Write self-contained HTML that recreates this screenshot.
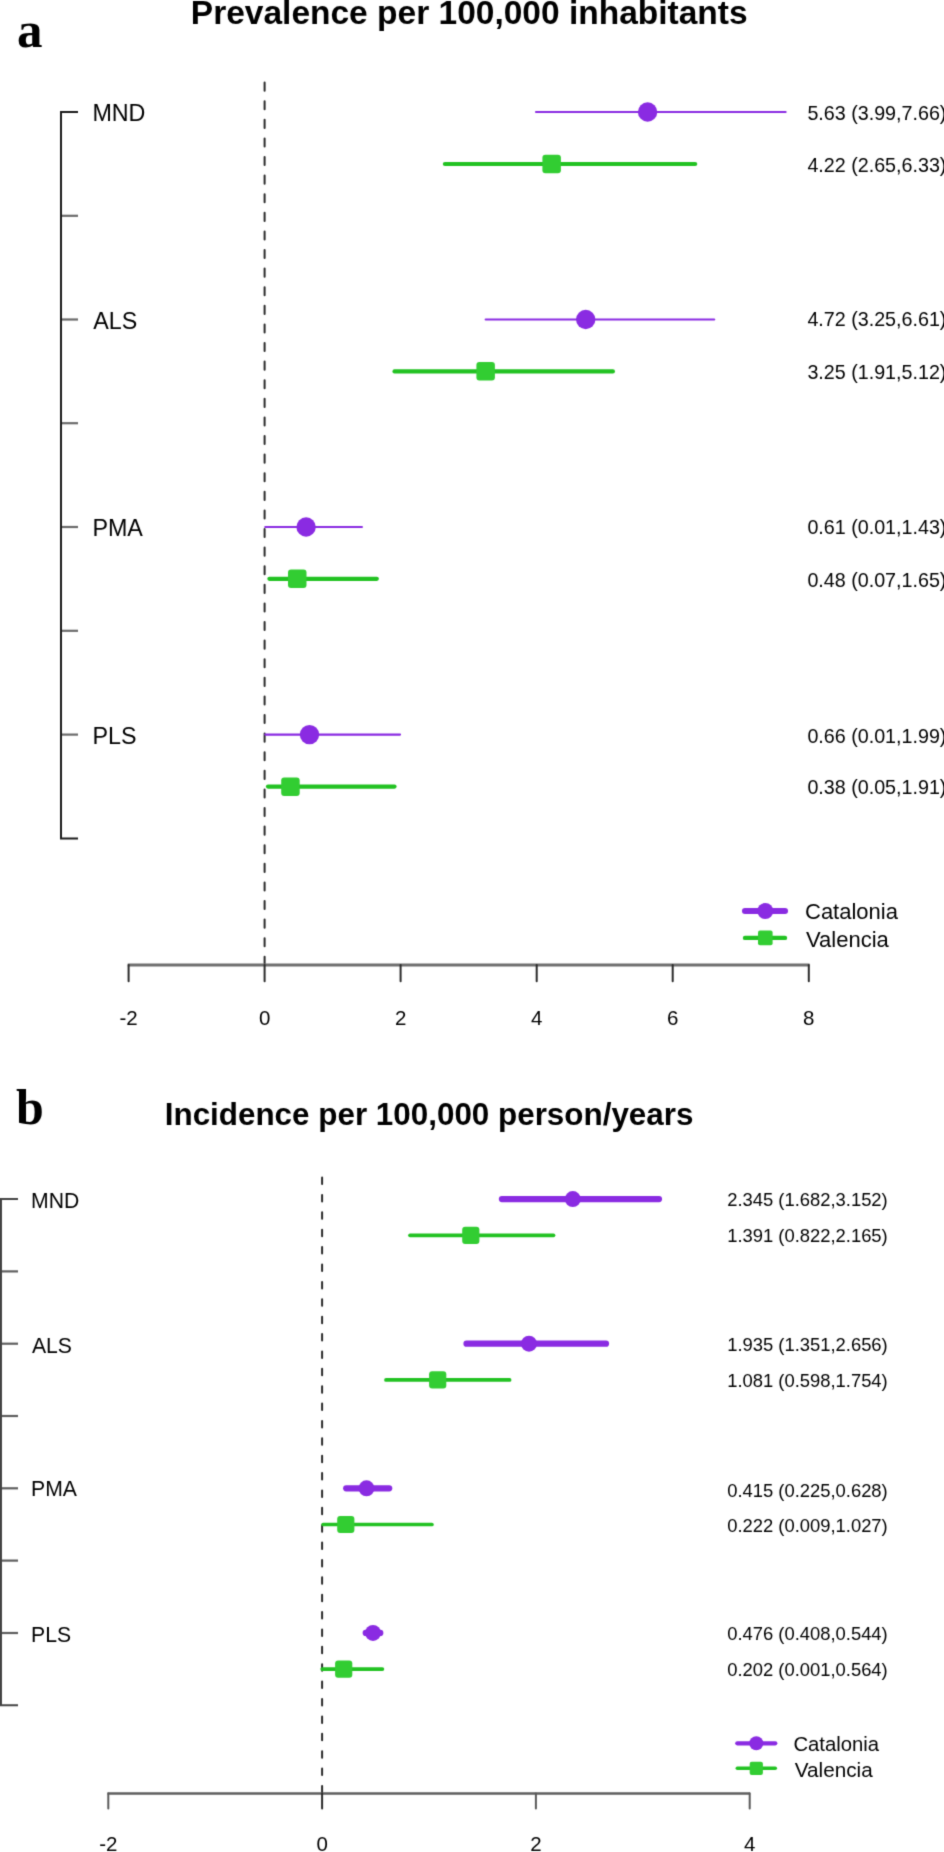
<!DOCTYPE html>
<html><head><meta charset="utf-8"><title>Forest plot</title>
<style>
html,body{margin:0;padding:0;background:#fff;}
body{width:944px;height:1852px;overflow:hidden;}
svg{display:block;font-family:"Liberation Sans",sans-serif;}
</style></head>
<body>
<svg width="944" height="1852" viewBox="0 0 944 1852">
<defs><filter id="soft" filterUnits="userSpaceOnUse" x="0" y="0" width="944" height="1852" color-interpolation-filters="sRGB"><feConvolveMatrix order="3" kernelMatrix="0.0196 0.1004 0.0196 0.1004 0.5199 0.1004 0.0196 0.1004 0.0196" edgeMode="duplicate"/></filter></defs>
<g filter="url(#soft)">
<rect width="944" height="1852" fill="#fff"/>
<text x="469.2" y="23.7" font-size="33.5" fill="#000" text-anchor="middle" font-weight="700">Prevalence per 100,000 inhabitants</text>
<text x="17" y="47.4" font-size="51" fill="#000" font-weight="700" font-family="Liberation Serif">a</text>
<line x1="61" y1="215.8" x2="78" y2="215.8" stroke="#6a6a6a" stroke-width="2.2"/>
<line x1="61" y1="319.5" x2="78" y2="319.5" stroke="#6a6a6a" stroke-width="2.2"/>
<line x1="61" y1="423.2" x2="78" y2="423.2" stroke="#6a6a6a" stroke-width="2.2"/>
<line x1="61" y1="527.0" x2="78" y2="527.0" stroke="#6a6a6a" stroke-width="2.2"/>
<line x1="61" y1="630.8" x2="78" y2="630.8" stroke="#6a6a6a" stroke-width="2.2"/>
<line x1="61" y1="734.6" x2="78" y2="734.6" stroke="#6a6a6a" stroke-width="2.2"/>
<path d="M78,112 H61 V838.4 H78" fill="none" stroke="#1a1a1a" stroke-width="2"/>
<text x="92.4" y="121.3" font-size="23.3" fill="#000">MND</text>
<text x="93.30000000000001" y="328.7" font-size="23.3" fill="#000">ALS</text>
<text x="92.4" y="536.0" font-size="23.3" fill="#000">PMA</text>
<text x="92.4" y="743.7" font-size="23.3" fill="#000">PLS</text>
<line x1="264.6" y1="82.6" x2="264.6" y2="964.9" stroke="#2a2a2a" stroke-width="2" stroke-linecap="round" stroke-dasharray="8.1 10.5"/>
<line x1="127.7" y1="964.9" x2="809.5" y2="964.9" stroke="#6e6e6e" stroke-width="3.0"/>
<line x1="128.6" y1="964.9" x2="128.6" y2="981.3" stroke="#2a2a2a" stroke-width="2" stroke-linecap="round"/>
<text x="128.6" y="1025.3" font-size="20.5" fill="#000" text-anchor="middle">-2</text>
<line x1="264.6" y1="964.9" x2="264.6" y2="981.3" stroke="#2a2a2a" stroke-width="2" stroke-linecap="round"/>
<text x="264.6" y="1025.3" font-size="20.5" fill="#000" text-anchor="middle">0</text>
<line x1="400.6" y1="964.9" x2="400.6" y2="981.3" stroke="#2a2a2a" stroke-width="2" stroke-linecap="round"/>
<text x="400.6" y="1025.3" font-size="20.5" fill="#000" text-anchor="middle">2</text>
<line x1="536.7" y1="964.9" x2="536.7" y2="981.3" stroke="#2a2a2a" stroke-width="2" stroke-linecap="round"/>
<text x="536.7" y="1025.3" font-size="20.5" fill="#000" text-anchor="middle">4</text>
<line x1="672.7" y1="964.9" x2="672.7" y2="981.3" stroke="#2a2a2a" stroke-width="2" stroke-linecap="round"/>
<text x="672.7" y="1025.3" font-size="20.5" fill="#000" text-anchor="middle">6</text>
<line x1="808.8" y1="964.9" x2="808.8" y2="981.3" stroke="#2a2a2a" stroke-width="2" stroke-linecap="round"/>
<text x="808.8" y="1025.3" font-size="20.5" fill="#000" text-anchor="middle">8</text>
<line x1="536.0" y1="112" x2="785.6" y2="112" stroke="#8a2be2" stroke-width="2.2" stroke-linecap="round"/>
<circle cx="647.6" cy="112" r="9.7" fill="#8a2be2"/>
<text x="807.4" y="119.6" font-size="20.2" fill="#000" textLength="139.04" lengthAdjust="spacingAndGlyphs">5.63 (3.99,7.66)</text>
<line x1="444.9" y1="164" x2="695.2" y2="164" stroke="#22c222" stroke-width="4.2" stroke-linecap="round"/>
<rect x="542.4" y="154.8" width="18.5" height="18.5" rx="3" fill="#32cd32"/>
<text x="807.4" y="171.6" font-size="20.2" fill="#000" textLength="139.04" lengthAdjust="spacingAndGlyphs">4.22 (2.65,6.33)</text>
<line x1="485.7" y1="319.5" x2="714.2" y2="319.5" stroke="#8a2be2" stroke-width="2.2" stroke-linecap="round"/>
<circle cx="585.7" cy="319.5" r="9.7" fill="#8a2be2"/>
<text x="807.4" y="326.4" font-size="20.2" fill="#000" textLength="139.04" lengthAdjust="spacingAndGlyphs">4.72 (3.25,6.61)</text>
<line x1="394.5" y1="371.4" x2="612.9" y2="371.4" stroke="#22c222" stroke-width="4.2" stroke-linecap="round"/>
<rect x="476.4" y="362.1" width="18.5" height="18.5" rx="3" fill="#32cd32"/>
<text x="807.4" y="379.2" font-size="20.2" fill="#000" textLength="139.04" lengthAdjust="spacingAndGlyphs">3.25 (1.91,5.12)</text>
<line x1="265.3" y1="527" x2="361.9" y2="527" stroke="#8a2be2" stroke-width="2.2" stroke-linecap="round"/>
<circle cx="306.1" cy="527" r="9.7" fill="#8a2be2"/>
<text x="807.4" y="534.0" font-size="20.2" fill="#000" textLength="139.04" lengthAdjust="spacingAndGlyphs">0.61 (0.01,1.43)</text>
<line x1="269.4" y1="578.8" x2="376.8" y2="578.8" stroke="#22c222" stroke-width="4.2" stroke-linecap="round"/>
<rect x="288.0" y="569.5" width="18.5" height="18.5" rx="3" fill="#32cd32"/>
<text x="807.4" y="586.5" font-size="20.2" fill="#000" textLength="139.04" lengthAdjust="spacingAndGlyphs">0.48 (0.07,1.65)</text>
<line x1="265.3" y1="734.6" x2="400.0" y2="734.6" stroke="#8a2be2" stroke-width="2.2" stroke-linecap="round"/>
<circle cx="309.5" cy="734.6" r="9.7" fill="#8a2be2"/>
<text x="807.4" y="743.3" font-size="20.2" fill="#000" textLength="139.04" lengthAdjust="spacingAndGlyphs">0.66 (0.01,1.99)</text>
<line x1="268.0" y1="786.6" x2="394.5" y2="786.6" stroke="#22c222" stroke-width="4.2" stroke-linecap="round"/>
<rect x="281.2" y="777.4" width="18.5" height="18.5" rx="3" fill="#32cd32"/>
<text x="807.4" y="793.9" font-size="20.2" fill="#000" textLength="139.04" lengthAdjust="spacingAndGlyphs">0.38 (0.05,1.91)</text>
<line x1="745" y1="911" x2="785" y2="911" stroke="#8a2be2" stroke-width="6.1" stroke-linecap="round"/>
<circle cx="765.3" cy="911" r="8" fill="#8a2be2"/>
<line x1="745" y1="937.9" x2="785" y2="937.9" stroke="#22c222" stroke-width="4.4" stroke-linecap="round"/>
<rect x="758.0" y="930.6" width="14.6" height="14.6" rx="2" fill="#32cd32"/>
<text x="805" y="919.3" font-size="22" fill="#000">Catalonia</text>
<text x="806" y="947" font-size="22" fill="#000">Valencia</text>
<text x="429.1" y="1124.7" font-size="31.4" fill="#000" text-anchor="middle" font-weight="700">Incidence per 100,000 person/years</text>
<text x="16" y="1123.5" font-size="50" fill="#000" font-weight="700" font-family="Liberation Serif">b</text>
<line x1="1" y1="1271.4" x2="18" y2="1271.4" stroke="#5e5e5e" stroke-width="2.2"/>
<line x1="1" y1="1343.7" x2="18" y2="1343.7" stroke="#5e5e5e" stroke-width="2.2"/>
<line x1="1" y1="1416.0" x2="18" y2="1416.0" stroke="#5e5e5e" stroke-width="2.2"/>
<line x1="1" y1="1488.3" x2="18" y2="1488.3" stroke="#5e5e5e" stroke-width="2.2"/>
<line x1="1" y1="1560.6" x2="18" y2="1560.6" stroke="#5e5e5e" stroke-width="2.2"/>
<line x1="1" y1="1633.0" x2="18" y2="1633.0" stroke="#5e5e5e" stroke-width="2.2"/>
<path d="M18,1199.1 H1 V1705.27 H18" fill="none" stroke="#444" stroke-width="2"/>
<text x="31.0" y="1208.1" font-size="21.2" fill="#000">MND</text>
<text x="31.9" y="1352.8" font-size="21.2" fill="#000">ALS</text>
<text x="31.0" y="1496.2" font-size="21.2" fill="#000">PMA</text>
<text x="31.0" y="1641.5" font-size="21.2" fill="#000">PLS</text>
<line x1="322.1" y1="1177.6" x2="322.1" y2="1793.5" stroke="#2a2a2a" stroke-width="2" stroke-linecap="round" stroke-dasharray="6.5 10.88"/>
<line x1="107.5" y1="1793.5" x2="750.2" y2="1793.5" stroke="#5e5e5e" stroke-width="2.7"/>
<line x1="108.3" y1="1793.5" x2="108.3" y2="1808.6" stroke="#5a5a5a" stroke-width="2" stroke-linecap="round"/>
<text x="108.3" y="1850.7" font-size="20.5" fill="#000" text-anchor="middle">-2</text>
<line x1="322.1" y1="1793.5" x2="322.1" y2="1808.6" stroke="#2a2a2a" stroke-width="2" stroke-linecap="round"/>
<text x="322.1" y="1850.7" font-size="20.5" fill="#000" text-anchor="middle">0</text>
<line x1="535.9" y1="1793.5" x2="535.9" y2="1808.6" stroke="#5a5a5a" stroke-width="2" stroke-linecap="round"/>
<text x="535.9" y="1850.7" font-size="20.5" fill="#000" text-anchor="middle">2</text>
<line x1="749.7" y1="1793.5" x2="749.7" y2="1808.6" stroke="#5a5a5a" stroke-width="2" stroke-linecap="round"/>
<text x="749.7" y="1850.7" font-size="20.5" fill="#000" text-anchor="middle">4</text>
<line x1="501.9" y1="1199.1" x2="659.0" y2="1199.1" stroke="#8a2be2" stroke-width="6.2" stroke-linecap="round"/>
<circle cx="572.8" cy="1199.1" r="8" fill="#8a2be2"/>
<text x="727.2" y="1206.1" font-size="18.4" fill="#000">2.345 (1.682,3.152)</text>
<line x1="410.0" y1="1235.3" x2="553.5" y2="1235.3" stroke="#22c222" stroke-width="3.7" stroke-linecap="round"/>
<rect x="462.2" y="1226.7" width="17.2" height="17.2" rx="3" fill="#32cd32"/>
<text x="727.2" y="1241.8" font-size="18.4" fill="#000">1.391 (0.822,2.165)</text>
<line x1="466.5" y1="1343.7" x2="606.0" y2="1343.7" stroke="#8a2be2" stroke-width="6.2" stroke-linecap="round"/>
<circle cx="529.0" cy="1343.7" r="8" fill="#8a2be2"/>
<text x="727.2" y="1351.0" font-size="18.4" fill="#000">1.935 (1.351,2.656)</text>
<line x1="386.0" y1="1379.9" x2="509.6" y2="1379.9" stroke="#22c222" stroke-width="3.7" stroke-linecap="round"/>
<rect x="429.1" y="1371.3" width="17.2" height="17.2" rx="3" fill="#32cd32"/>
<text x="727.2" y="1386.8" font-size="18.4" fill="#000">1.081 (0.598,1.754)</text>
<line x1="346.2" y1="1488.3" x2="389.2" y2="1488.3" stroke="#8a2be2" stroke-width="6.2" stroke-linecap="round"/>
<circle cx="366.5" cy="1488.3" r="8" fill="#8a2be2"/>
<text x="727.2" y="1496.5" font-size="18.4" fill="#000">0.415 (0.225,0.628)</text>
<line x1="323.1" y1="1524.5" x2="431.9" y2="1524.5" stroke="#22c222" stroke-width="3.7" stroke-linecap="round"/>
<rect x="337.2" y="1515.9" width="17.2" height="17.2" rx="3" fill="#32cd32"/>
<text x="727.2" y="1532.2" font-size="18.4" fill="#000">0.222 (0.009,1.027)</text>
<line x1="365.7" y1="1632.9" x2="380.3" y2="1632.9" stroke="#8a2be2" stroke-width="6.2" stroke-linecap="round"/>
<circle cx="373.0" cy="1632.9" r="8" fill="#8a2be2"/>
<text x="727.2" y="1639.6" font-size="18.4" fill="#000">0.476 (0.408,0.544)</text>
<line x1="322.2" y1="1669.1" x2="382.4" y2="1669.1" stroke="#22c222" stroke-width="3.7" stroke-linecap="round"/>
<rect x="335.1" y="1660.5" width="17.2" height="17.2" rx="3" fill="#32cd32"/>
<text x="727.2" y="1675.6" font-size="18.4" fill="#000">0.202 (0.001,0.564)</text>
<line x1="737.3" y1="1743.3" x2="775.3" y2="1743.3" stroke="#8a2be2" stroke-width="4.2" stroke-linecap="round"/>
<circle cx="756.3" cy="1743.3" r="7" fill="#8a2be2"/>
<line x1="737.3" y1="1768.3" x2="775.3" y2="1768.3" stroke="#22c222" stroke-width="3.5" stroke-linecap="round"/>
<rect x="749.7" y="1761.7" width="13.2" height="13.2" rx="2" fill="#32cd32"/>
<text x="793.4" y="1750.9" font-size="20.5" fill="#000" textLength="85.74" lengthAdjust="spacingAndGlyphs">Catalonia</text>
<text x="794.8" y="1777" font-size="20.5" fill="#000" textLength="77.88" lengthAdjust="spacingAndGlyphs">Valencia</text>
</g>
</svg>
</body></html>
